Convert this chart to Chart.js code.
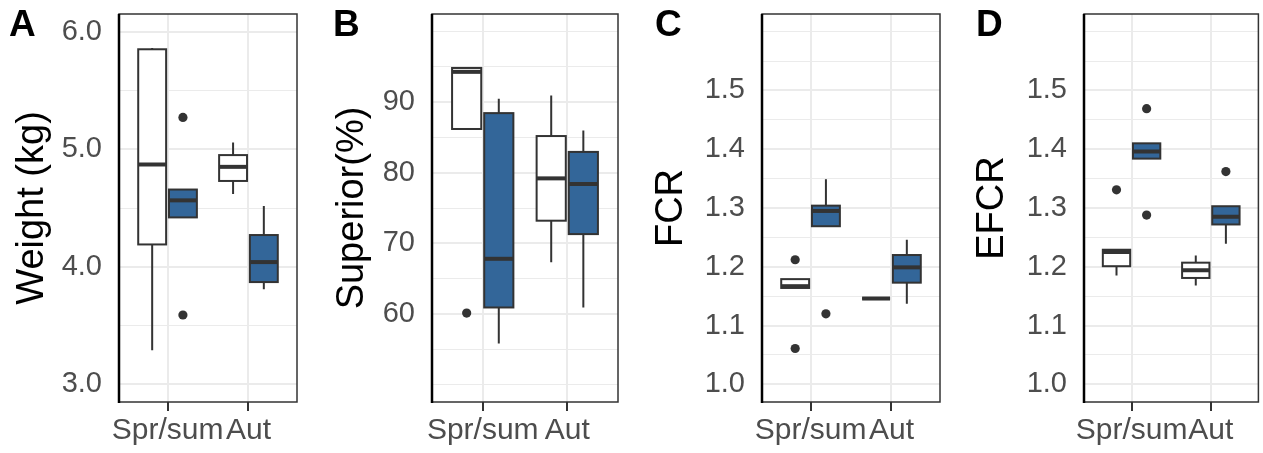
<!DOCTYPE html>
<html>
<head>
<meta charset="utf-8">
<script src="https://cdn.jsdelivr.net/npm/chart.js@4.4.1/dist/chart.umd.min.js"></script>
<style>
  body { margin: 0; background: #fff; width: 1263px; height: 453px; overflow: hidden; position: relative; font-family: "Liberation Sans", Arial, sans-serif; }
  .panel { position: absolute; top: 0; height: 453px; }
  .panel canvas { position: absolute; left: 0; top: 0; }
  .tag { position: absolute; top: 5px; font-size: 37px; font-weight: bold; line-height: 1; color: #000; }
</style>
</head>
<body>
<div class="panel" style="left:0px;width:316px"><canvas id="weight" width="316" height="453"></canvas></div>
<div class="panel" style="left:316px;width:316px"><canvas id="superior" width="316" height="453"></canvas></div>
<div class="panel" style="left:632px;width:316px"><canvas id="fcr" width="316" height="453"></canvas></div>
<div class="panel" style="left:948px;width:315px"><canvas id="efcr" width="315" height="453"></canvas></div>
<div class="tag" style="left:9px">A</div>
<div class="tag" style="left:333px">B</div>
<div class="tag" style="left:655px">C</div>
<div class="tag" style="left:976px">D</div>

<script>
// categories on the x axis
const GROUPS = ["Spr/sum", "Aut"];

// each box: [lower whisker, Q1, median, Q3, upper whisker]
// order: Spr/sum (white), Spr/sum (blue), Aut (white), Aut (blue)
const WEIGHT_BOXES = [
  [3.29, 4.19, 4.87, 5.85, 5.86],
  [4.42, 4.42, 4.565, 4.657, 4.657],
  [4.62, 4.73, 4.85, 4.95, 5.057],
  [3.81, 3.87, 4.04, 4.27, 4.516],
];
const WEIGHT_OUTLIERS = [[], [5.27, 3.59], [], []];
const WEIGHT_TICKS = [3, 4, 5, 6];
const WEIGHT_LIMITS = [3, 6];

const SUPERIOR_BOXES = [
  [86.2, 86.2, 94.3, 94.85, 94.95],
  [55.8, 60.9, 67.8, 88.45, 90.5],
  [67.3, 73.2, 79.2, 85.2, 90.95],
  [60.9, 71.3, 78.4, 82.95, 85.97],
];
const SUPERIOR_OUTLIERS = [[60.1], [], [], []];
const SUPERIOR_TICKS = [60, 70, 80, 90];
const SUPERIOR_LIMITS = [50, 100];

const FCR_BOXES = [
  [1.164, 1.164, 1.167, 1.179, 1.179],
  [1.269, 1.269, 1.295, 1.304, 1.349],
  [1.146, 1.146, 1.146, 1.146, 1.146],
  [1.137, 1.173, 1.199, 1.220, 1.246],
];
const FCR_OUTLIERS = [[1.212, 1.061], [1.120], [], []];
const FCR_TICKS = [1.0, 1.1, 1.2, 1.3, 1.4, 1.5];
const FCR_LIMITS = [1.0, 1.6];

const EFCR_BOXES = [
  [1.185, 1.201, 1.225, 1.229, 1.229],
  [1.384, 1.384, 1.396, 1.41, 1.41],
  [1.168, 1.181, 1.194, 1.207, 1.219],
  [1.239, 1.272, 1.285, 1.303, 1.303],
];
const EFCR_OUTLIERS = [[1.331], [1.469, 1.288], [], [1.362]];
const EFCR_TICKS = [1.0, 1.1, 1.2, 1.3, 1.4, 1.5];
const EFCR_LIMITS = [1.0, 1.6];

const FILLS = ["#ffffff", "#336699"];
const DODGE = 0.19;
const BOX_W = 0.345;
const GRID = "#ebebeb";
const INK = "#333333";
const FONT = "'Liberation Sans', Arial, sans-serif";

function boxX(i) {
  return Math.floor(i / 2) + 1 + (i % 2 ? DODGE : -DODGE);
}

// minor breaks the way ggplot2 does it: halfway between majors, extended one step
function minorBreaks(major, lo, hi) {
  const step = major[1] - major[0];
  let b = major.slice();
  if (lo < b[0]) b.unshift(b[0] - step);
  if (hi > b[b.length - 1]) b.push(b[b.length - 1] + step);
  const out = [];
  for (let k = 0; k < b.length; k++) {
    out.push(b[k]);
    if (k < b.length - 1) out.push((b[k] + b[k + 1]) / 2);
  }
  return out.filter(v => v >= lo - 1e-9 && v <= hi + 1e-9 &&
    !major.some(m => Math.abs(m - v) < 1e-9));
}

const isMajor = (list, v) => list.some(m => Math.abs(m - v) < 1e-9);

const boxPlugin = {
  id: "boxes",
  beforeDatasetsDraw(chart, args, opts) {
    const { ctx } = chart;
    const x = chart.scales.x, y = chart.scales.y;
    const area = chart.chartArea;
    ctx.save();
    ctx.beginPath();
    ctx.rect(area.left, area.top, area.right - area.left, area.bottom - area.top);
    ctx.clip();
    opts.boxes.forEach((s, i) => {
      const c = boxX(i);
      const x0 = x.getPixelForValue(c - BOX_W / 2);
      const x1 = x.getPixelForValue(c + BOX_W / 2);
      const xm = x.getPixelForValue(c);
      const [lo, q1, med, q3, hi] = s.map(v => y.getPixelForValue(v));
      ctx.strokeStyle = INK;
      ctx.lineWidth = 2;
      ctx.beginPath();
      ctx.moveTo(xm, q3); ctx.lineTo(xm, hi);
      ctx.moveTo(xm, q1); ctx.lineTo(xm, lo);
      ctx.stroke();
      ctx.fillStyle = FILLS[i % 2];
      ctx.fillRect(x0, q3, x1 - x0, q1 - q3);
      ctx.strokeRect(x0, q3, x1 - x0, q1 - q3);
      ctx.lineWidth = 4;
      ctx.beginPath();
      ctx.moveTo(x0, med); ctx.lineTo(x1, med);
      ctx.stroke();
    });
    ctx.restore();
  },
  afterDraw(chart) {
    const { ctx } = chart;
    const a = chart.chartArea;
    ctx.save();
    ctx.strokeStyle = INK;
    ctx.lineWidth = 1.5;
    ctx.strokeRect(a.left, a.top, a.right - a.left, a.bottom - a.top);
    ctx.strokeStyle = "#000";
    ctx.lineWidth = 2.5;
    ctx.beginPath();
    ctx.moveTo(a.left, a.top);
    ctx.lineTo(a.left, a.bottom + 1);
    ctx.stroke();
    ctx.restore();
  },
};

function makePanel(id, cfg) {
  const span = cfg.limits[1] - cfg.limits[0];
  const ymin = cfg.limits[0] - span * 0.05;
  const ymax = cfg.limits[1] + span * 0.05;
  const minors = minorBreaks(cfg.ticks, ymin, ymax);
  const allTicks = cfg.ticks.concat(minors).sort((a, b) => a - b);

  const points = [];
  cfg.outliers.forEach((list, i) => list.forEach(v => points.push({ x: boxX(i), y: v })));

  new Chart(document.getElementById(id), {
    type: "scatter",
    data: {
      datasets: [{
        data: points,
        pointRadius: 4.6,
        pointBackgroundColor: INK,
        pointBorderWidth: 0,
      }],
    },
    plugins: [boxPlugin],
    options: {
      responsive: false,
      animation: false,
      events: [],
      layout: { padding: { left: cfg.padLeft, right: cfg.padRight, top: 14, bottom: 0 } },
      plugins: {
        legend: { display: false },
        tooltip: { enabled: false },
        boxes: { boxes: cfg.boxes },
      },
      scales: {
        x: {
          type: "linear",
          min: 0.4,
          max: 2.6,
          afterBuildTicks: (s) => { s.ticks = [{ value: 1 }, { value: 2 }]; },
          afterFit: (s) => { s.height = 51; s.paddingLeft = 0; s.paddingRight = 0; },
          border: { display: false },
          grid: {
            color: GRID,
            lineWidth: 2,
            drawTicks: true,
            tickLength: 9,
            tickColor: INK,
            tickWidth: 2,
          },
          ticks: {
            autoSkip: false,
            maxRotation: 0,
            minRotation: 0,
            padding: 2,
            color: "#4d4d4d",
            font: { family: FONT, size: 30 },
            callback: (v) => GROUPS[Math.round(v) - 1],
          },
        },
        y: {
          type: "linear",
          min: ymin,
          max: ymax,
          afterBuildTicks: (s) => { s.ticks = allTicks.map(v => ({ value: v })); },
          afterFit: (s) => { s.width = cfg.axisWidth; s.paddingTop = 0; s.paddingBottom = 0; },
          border: { display: false },
          grid: {
            drawTicks: false,
            color: GRID,
            lineWidth: (ctx) => (ctx.tick && isMajor(cfg.ticks, ctx.tick.value) ? 2 : 1),
          },
          ticks: {
            autoSkip: false,
            padding: 17,
            color: "#4d4d4d",
            font: { family: FONT, size: 29 },
            callback: (v) => (isMajor(cfg.ticks, v) ? v.toFixed(cfg.digits) : ""),
          },
          title: {
            display: true,
            text: cfg.title,
            color: "#000",
            padding: 0,
            font: { family: FONT, size: 38, lineHeight: 1 },
          },
        },
      },
    },
  });
}

makePanel("weight", {
  boxes: WEIGHT_BOXES, outliers: WEIGHT_OUTLIERS, ticks: WEIGHT_TICKS, limits: WEIGHT_LIMITS,
  title: "Weight (kg)", digits: 1, padLeft: 14, padRight: 19, axisWidth: 105,
});
makePanel("superior", {
  boxes: SUPERIOR_BOXES, outliers: SUPERIOR_OUTLIERS, ticks: SUPERIOR_TICKS, limits: SUPERIOR_LIMITS,
  title: "Superior(%)", digits: 0, padLeft: 18, padRight: 14, axisWidth: 98,
});
makePanel("fcr", {
  boxes: FCR_BOXES, outliers: FCR_OUTLIERS, ticks: FCR_TICKS, limits: FCR_LIMITS,
  title: "FCR", digits: 1, padLeft: 21, padRight: 8, axisWidth: 109,
});
makePanel("efcr", {
  boxes: EFCR_BOXES, outliers: EFCR_OUTLIERS, ticks: EFCR_TICKS, limits: EFCR_LIMITS,
  title: "EFCR", digits: 1, padLeft: 26, padRight: 2, axisWidth: 110,
});
</script>
</body>
</html>
